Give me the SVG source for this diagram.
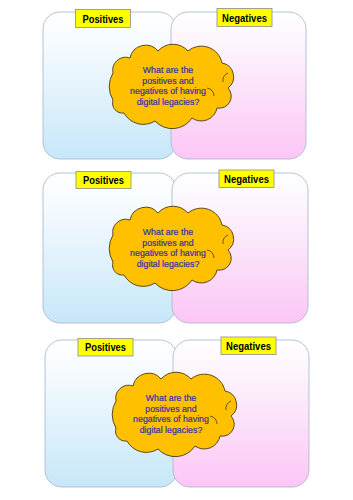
<svg xmlns="http://www.w3.org/2000/svg" width="353" height="500" viewBox="0 0 353 500">
<defs>
<linearGradient id="gBlue" x1="0" y1="0" x2="0" y2="1">
<stop offset="0" stop-color="#ffffff"/>
<stop offset="0.25" stop-color="#f4fafe"/>
<stop offset="1" stop-color="#c7e7f9"/>
</linearGradient>
<linearGradient id="gPink" x1="0" y1="0" x2="0" y2="1">
<stop offset="0" stop-color="#ffffff"/>
<stop offset="0.25" stop-color="#fcf3fc"/>
<stop offset="1" stop-color="#fcc6f6"/>
</linearGradient>
<path id="cloud" d="M 113 100 A 26 26 0 0 1 113 73 A 13 13 0 0 1 130 58 A 16 16 0 0 1 158 51 A 20 20 0 0 1 188 51 A 21 21 0 0 1 222 63 A 14 14 0 0 1 228 88 A 12 12 0 0 1 217 108 A 16 16 0 0 1 192 118 A 23.5 23.5 0 0 1 155 121 A 22 22 0 0 1 124 113 A 10 10 0 0 1 113 100 Z"/>
</defs>
<style>
.pos{fill:url(#gBlue);stroke:#a3b4c9;stroke-width:0.8}
.neg{fill:url(#gPink);stroke:#a3b4c9;stroke-width:0.8}
.lab{fill:#ffff00;stroke:#8c8c8c;stroke-width:0.8}
.lt{font-family:"Liberation Sans",Arial,sans-serif;font-weight:bold;font-size:11px;fill:#000;text-anchor:middle}
.cl{fill:#ffc000;stroke:#4a3a10;stroke-width:0.9}
.ci{fill:none;stroke:#4a3a10;stroke-width:0.8}
.ct{font-family:"Liberation Sans",Arial,sans-serif;font-size:8.8px;fill:#3530aa;stroke:#3530aa;stroke-width:0.2;text-anchor:middle}
</style>
<rect width="353" height="500" fill="#ffffff"/>

<!-- Panel 1 -->
<g id="pos1">
<rect class="pos" x="43" y="12" width="133" height="147" rx="17"/>
</g>
<g id="neg1">
<rect class="neg" x="171" y="12" width="135" height="147" rx="17"/>
</g>
<g id="poslabel1">
<rect class="lab" x="75.5" y="9.5" width="55" height="18"/>
<text class="lt" x="103" y="22.5" textLength="41" lengthAdjust="spacingAndGlyphs">Positives</text>
</g>
<g id="neglabel1">
<rect class="lab" x="217" y="8.5" width="55" height="18"/>
<text class="lt" x="244.5" y="21.5" textLength="45" lengthAdjust="spacingAndGlyphs">Negatives</text>
</g>
<g id="cloud1">
<use href="#cloud" class="cl"/>
<path class="ci" d="M 223 82 A 8 8 0 0 1 228 73 M 207 88 A 8 8 0 0 1 214 96"/>
<text class="ct" x="168" y="73">What are the</text>
<text class="ct" x="168" y="83.5">positives and</text>
<text class="ct" x="168" y="94">negatives of having</text>
<text class="ct" x="168" y="104.5">digital legacies?</text>
</g>

<!-- Panel 2 -->
<g id="pos2">
<rect class="pos" x="43" y="173" width="133" height="150" rx="17"/>
</g>
<g id="neg2">
<rect class="neg" x="172" y="173" width="136" height="150" rx="17"/>
</g>
<g id="poslabel2">
<rect class="lab" x="76" y="171.5" width="55" height="17"/>
<text class="lt" x="103.5" y="184" textLength="41" lengthAdjust="spacingAndGlyphs">Positives</text>
</g>
<g id="neglabel2">
<rect class="lab" x="219" y="170" width="55" height="17.5"/>
<text class="lt" x="246.5" y="182.5" textLength="45" lengthAdjust="spacingAndGlyphs">Negatives</text>
</g>
<g id="cloud2" transform="translate(0,162)">
<use href="#cloud" class="cl"/>
<path class="ci" d="M 223 82 A 8 8 0 0 1 228 73 M 207 88 A 8 8 0 0 1 214 96"/>
<text class="ct" x="168" y="73">What are the</text>
<text class="ct" x="168" y="83.5">positives and</text>
<text class="ct" x="168" y="94">negatives of having</text>
<text class="ct" x="168" y="104.5">digital legacies?</text>
</g>

<!-- Panel 3 -->
<g id="pos3">
<rect class="pos" x="45" y="340" width="132" height="147" rx="17"/>
</g>
<g id="neg3">
<rect class="neg" x="173" y="340" width="136" height="147" rx="17"/>
</g>
<g id="poslabel3">
<rect class="lab" x="78" y="338.5" width="55" height="17.5"/>
<text class="lt" x="105.5" y="351" textLength="41" lengthAdjust="spacingAndGlyphs">Positives</text>
</g>
<g id="neglabel3">
<rect class="lab" x="221" y="337" width="55" height="17.5"/>
<text class="lt" x="248.5" y="349.5" textLength="45" lengthAdjust="spacingAndGlyphs">Negatives</text>
</g>
<g id="cloud3" transform="translate(3,328)">
<use href="#cloud" class="cl"/>
<path class="ci" d="M 223 82 A 8 8 0 0 1 228 73 M 207 88 A 8 8 0 0 1 214 96"/>
<text class="ct" x="168" y="73">What are the</text>
<text class="ct" x="168" y="83.5">positives and</text>
<text class="ct" x="168" y="94">negatives of having</text>
<text class="ct" x="168" y="104.5">digital legacies?</text>
</g>
</svg>
